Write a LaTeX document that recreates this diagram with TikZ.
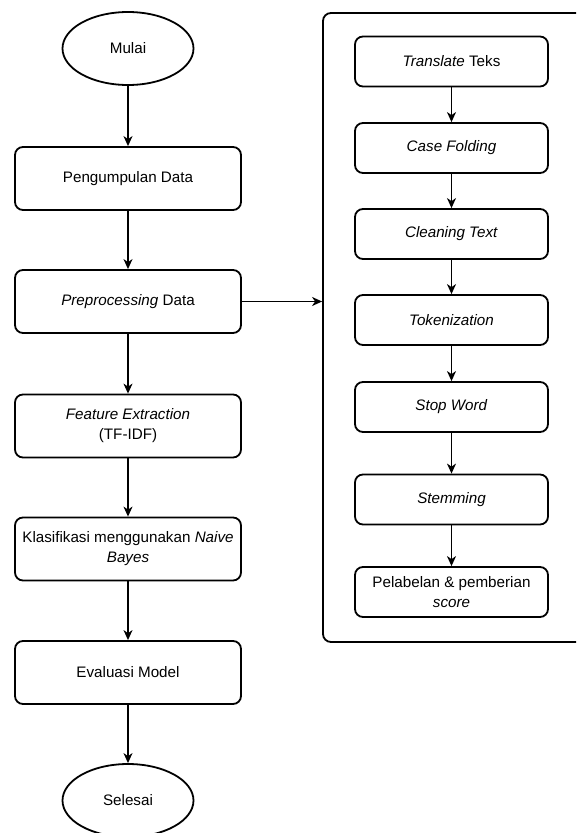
\documentclass[tikz,border=0pt]{standalone}
\usepackage{fontspec}
\setmainfont{Liberation Sans}
\usetikzlibrary{shapes.geometric,arrows.meta}
\begin{document}
\begin{tikzpicture}[x=1pt,y=-1pt,
  font=\fontsize{15.2}{20}\selectfont,
  proc/.style={draw,line width=1.8pt,rounded corners=8pt,minimum width=226pt,minimum height=63pt,align=center,inner sep=2pt},
  sub/.style={draw,line width=1.8pt,rounded corners=8pt,minimum width=193pt,minimum height=50pt,align=center,inner sep=2pt},
  term/.style={draw,ellipse,line width=1.8pt,minimum width=131pt,minimum height=73pt,inner sep=0pt},
  flow/.style={-{Stealth[length=10pt,width=9pt,inset=3pt]},line width=1.3pt}]
\useasboundingbox (0,0) rectangle (576,833);
\clip (0,0) rectangle (576,833);

% main flow
\node[term] (mulai) at (128,48.5) {Mulai};
\node[proc] (kumpul) at (128,178.5) {Pengumpulan Data};
\node[proc] (prep) at (128,301.5) {\textit{Preprocessing} Data};
\node[proc] (fitur) at (128,426) {\textit{Feature Extraction}\\(TF-IDF)};
\node[proc] (klas) at (128,549) {Klasifikasi menggunakan \textit{Naive}\\\textit{Bayes}};
\node[proc] (eval) at (128,672.5) {Evaluasi Model};
\node[term] (selesai) at (128,800.5) {Selesai};

\draw[flow] (mulai) -- (kumpul);
\draw[flow] (kumpul) -- (prep);
\draw[flow] (prep) -- (fitur);
\draw[flow] (fitur) -- (klas);
\draw[flow] (klas) -- (eval);
\draw[flow] (eval) -- (selesai);

% preprocessing steps
\node[draw,line width=1.8pt,rounded corners=8pt,minimum width=277pt,minimum height=629pt] (grp) at (461.5,327.5) {};
\node[sub] (trans) at (451.5,61.5) {\textit{Translate} Teks};
\node[sub] (case) at (451.5,148) {\textit{Case Folding}};
\node[sub] (clean) at (451.5,234) {\textit{Cleaning Text}};
\node[sub] (token) at (451.5,320) {\textit{Tokenization}};
\node[sub] (stop) at (451.5,407) {\textit{Stop Word}};
\node[sub] (stem) at (451.5,499.5) {\textit{Stemming}};
\node[sub] (label) at (451.5,592) {Pelabelan \& pemberian\\\textit{score}};

\draw[flow] (prep.east) -- (prep.east -| grp.west);
\foreach \a/\b in {trans/case,case/clean,clean/token,token/stop,stop/stem,stem/label}
  \draw[flow] (\a) -- (\b);
\end{tikzpicture}
\end{document}
